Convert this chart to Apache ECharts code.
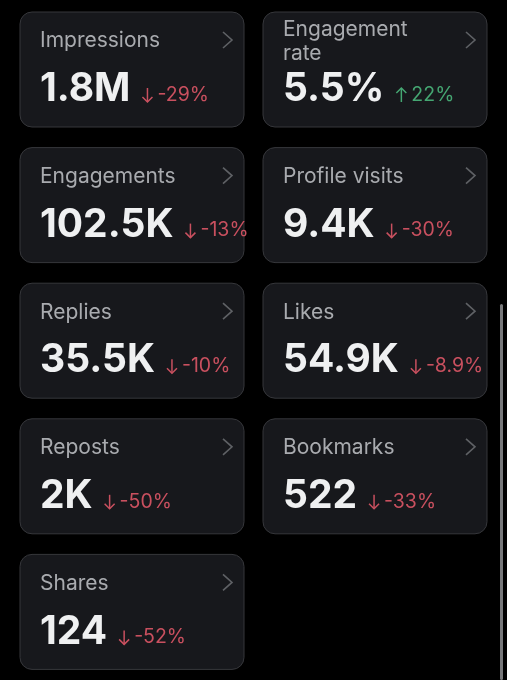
<!DOCTYPE html>
<html>
<head>
<meta charset="utf-8">
<style>html,body{margin:0;padding:0;background:#000;}#view{width:507px;height:680px;}</style>
<script src="https://cdn.jsdelivr.net/npm/echarts@6/dist/echarts.min.js"></script>
</head>
<body>
<div id="view"></div>
<script>
var labels = ['Impressions', 'Engagement\nrate', 'Engagements', 'Profile visits', 'Replies', 'Likes', 'Reposts', 'Bookmarks', 'Shares']
var values = ['1.8M', '5.5%', '102.5K', '9.4K', '35.5K', '54.9K', '2K', '522', '124']
var changes = ['-29%', '22%', '-13%', '-30%', '-10%', '-8.9%', '-50%', '-33%', '-52%']
var columns = ['left', 'right']
var rows = ['r1', 'r2', 'r3', 'r4', 'r5']

var font = 'Inter, "Noto Sans", sans-serif'
var red = '#c9505f'
var green = '#45a672'

var cardW = 224
var cardH = 115

var myChart = echarts.init(document.getElementById('view'))

function drawCard(params, api) {
    var i = params.dataIndex
    var c = api.coord([api.value(0), api.value(1)])
    var x = c[0] - cardW / 2
    var y = c[1] - cardH / 2
    var up = changes[i].charAt(0) !== '-'
    var color = up ? green : red

    // value width decides where the change label goes
    var ctx = document.createElement('canvas').getContext('2d')
    ctx.font = '700 39px ' + font
    var valueW = ctx.measureText(values[i]).width

    var ax = x + 20 + valueW + 17
    var ay = y + 83
    var arrow = up
        ? [[ax, ay + 7], [ax, ay - 7]]
        : [[ax, ay - 7], [ax, ay + 7]]
    var tip = up ? -1 : 1
    var head = [[ax - 5, arrow[1][1] - tip * 5], arrow[1], [ax + 5, arrow[1][1] - tip * 5]]

    var multi = labels[i].indexOf('\n') >= 0

    return {
        type: 'group',
        children: [
            {
                type: 'rect',
                shape: { x: x, y: y, width: cardW, height: cardH, r: 12 },
                style: { fill: '#17181c', stroke: '#36373b', lineWidth: 1 }
            },
            {
                type: 'text',
                x: x + 20,
                y: multi ? y + 6 : y + 17,
                style: {
                    text: labels[i], fill: '#a9abaf', font: '400 21px ' + font,
                    lineHeight: 24, letterSpacing: 0.8
                }
            },
            {
                type: 'polyline',
                shape: { points: [[x + 203, y + 20], [x + 212, y + 28], [x + 203, y + 36]] },
                style: { stroke: '#5f6165', lineWidth: 1.6, fill: null }
            },
            {
                type: 'text',
                x: x + 20,
                y: y + 58,
                style: { text: values[i], fill: '#eff0f1', font: '700 39px ' + font }
            },
            { type: 'polyline', shape: { points: arrow }, style: { stroke: color, lineWidth: 1.5, fill: null } },
            { type: 'polyline', shape: { points: head }, style: { stroke: color, lineWidth: 1.5, fill: null } },
            {
                type: 'text',
                x: ax + 10,
                y: y + 73,
                style: { text: changes[i], fill: color, font: '400 19.5px ' + font }
            }
        ]
    }
}

var cards = labels.map(function (d, i) { return [i % 2, Math.floor(i / 2)] })

option = {
    backgroundColor: '#000',
    animation: false,
    grid: { left: 10.5, top: 1.7, width: 486, height: 678 },
    xAxis: { type: 'category', data: columns, show: false },
    yAxis: { type: 'category', data: rows, inverse: true, show: false },
    graphic: [{
        type: 'rect',
        shape: { x: 500, y: 304, width: 3, height: 376, r: 1.5 },
        style: { fill: '#77787a' }
    }],
    series: [{
        type: 'custom',
        coordinateSystem: 'cartesian2d',
        renderItem: drawCard,
        clip: false,
        data: cards
    }]
}

myChart.setOption(option)
</script>
</body>
</html>
